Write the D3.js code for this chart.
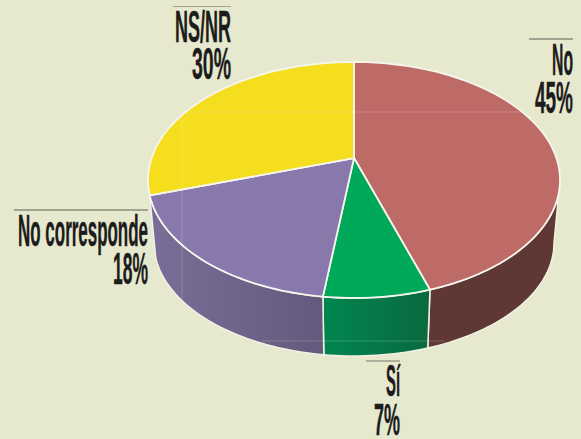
<!DOCTYPE html>
<html>
<head>
<meta charset="utf-8">
<script src="https://d3js.org/d3.v7.min.js"></script>
<style>
  html, body { margin: 0; padding: 0; background: #e7e9cf; }
  svg { display: block; }
  text { font-family: "Liberation Sans Narrow", "Liberation Sans", sans-serif; font-weight: bold; fill: #1d1c1c; stroke: #1d1c1c; }
</style>
</head>
<body>
<svg id="chart" width="581" height="439"></svg>
<script>
const categories = ["No", "Sí", "No corresponde", "NS/NR"];
const values = [45, 7, 18, 30];

const topColours = ["#be6a66", "#00a85a", "#8878ab", "#f4de1e"];
const wallFrom = ["#5f3833", "#00864f", "#7a6e98", null];
const wallTo = ["#5f3833", "#0a693f", "#625a7c", null];

// anchor is the right edge of the label, line is the rule above it
const labelRight = [573, 400, 148, 231];
const labelBase = [[75, 113], [396, 435], [245.5, 284], [41.5, 79]];
const labelWidth = [[21, 38], [14, 26], [130, 35], [56, 39]];
const ruleY = [39, 361, 210, 6.5];
const ruleLeft = [529, 366, 14, 173];
const ruleColour = ["#5c5c50", "#77776a", "#5c5c50", "#a3a38f"];

const width = 581;
const height = 439;

// the disc is seen in perspective: the apex sits above the middle of the ellipse
const tilt = -0.186;
const topFace = { cx: 354, cy: 180, rx: 206, ry: 118 };
const bottomFace = { cx: 354, cy: 243, rx: 200, ry: 113 };

function project(face, angle, radius) {
  const u = radius * Math.sin(angle);
  const v = -radius * Math.cos(angle);
  const w = 1 + tilt * v;
  const x = d3.scaleLinear().domain([-1, 1]).range([face.cx - face.rx, face.cx + face.rx]);
  const y = d3.scaleLinear().domain([-1, 1]).range([face.cy - face.ry, face.cy + face.ry]);
  return [x((u * Math.sqrt(1 - tilt * tilt)) / w), y((v + tilt) / w)];
}

function arcPoints(face, a0, a1) {
  const n = Math.max(2, Math.ceil(Math.abs(a1 - a0) * 40));
  return d3.range(n + 1).map((i) => project(face, a0 + ((a1 - a0) * i) / n, 1));
}

const line = d3.line();
const slices = d3.pie().sort(null)(values);

// angle where the rim is at its widest, the wall is not visible behind it
const sideAngle = Math.acos(tilt);

const svg = d3.select("#chart").attr("viewBox", [0, 0, width, height]);
svg.append("rect").attr("width", width).attr("height", height).attr("fill", "#e7e9cf");

const defs = svg.append("defs");
slices.forEach((d, i) => {
  if (!wallFrom[i]) return;
  const grad = defs.append("linearGradient").attr("id", `wall_${i}`);
  grad.append("stop").attr("offset", "0%").attr("stop-color", wallFrom[i]);
  grad.append("stop").attr("offset", "100%").attr("stop-color", wallTo[i]);
});

// walls of the front slices
svg
  .append("g")
  .selectAll("path")
  .data(slices.filter((d) => wallFrom[d.index]))
  .join("path")
  .attr("d", (d) => {
    const a0 = Math.max(d.startAngle, sideAngle);
    const a1 = Math.min(d.endAngle, 2 * Math.PI - sideAngle);
    return line(arcPoints(topFace, a0, a1).concat(arcPoints(bottomFace, a1, a0))) + "Z";
  })
  .attr("fill", (d) => `url(#wall_${d.index})`)
  .attr("stroke", "#f1f1e6")
  .attr("stroke-width", 1.5)
  .attr("stroke-linejoin", "round");

// top of the pie
svg
  .append("g")
  .selectAll("path")
  .data(slices)
  .join("path")
  .attr("d", (d) => {
    const apex = project(topFace, 0, 0);
    return line([apex].concat(arcPoints(topFace, d.startAngle, d.endAngle))) + "Z";
  })
  .attr("fill", (d) => topColours[d.index])
  .attr("stroke", "#f6f6ee")
  .attr("stroke-width", 1.8)
  .attr("stroke-linejoin", "round");

// faint frame lines that show through the print
svg
  .append("g")
  .attr("stroke", "#ffffff")
  .attr("stroke-opacity", 0.2)
  .selectAll("line")
  .data([[182, 112, 522, 112], [182, 112, 182, 300], [262, 341, 445, 341]])
  .join("line")
  .attr("x1", (d) => d[0])
  .attr("y1", (d) => d[1])
  .attr("x2", (d) => d[2])
  .attr("y2", (d) => d[3]);

// labels
const labels = svg
  .append("g")
  .selectAll("g")
  .data(categories)
  .join("g");

labels
  .append("line")
  .attr("x1", (d, i) => ruleLeft[i])
  .attr("x2", (d, i) => labelRight[i])
  .attr("y1", (d, i) => ruleY[i])
  .attr("y2", (d, i) => ruleY[i])
  .attr("stroke", (d, i) => ruleColour[i])
  .attr("stroke-width", 1);

labels.each(function (d, i) {
  [d, `${values[i]}%`].forEach((str, row) => {
    const t = d3.select(this)
      .append("text")
      .text(str)
      .attr("text-anchor", "end")
      .attr("font-size", 30);
    // squeeze the glyphs to the width of the condensed face in the print
    const sx = labelWidth[i][row] / t.node().getComputedTextLength();
    t.attr("transform", `translate(${labelRight[i]},${labelBase[i][row]}) scale(${sx},1.45)`)
      .attr("stroke-width", 0.3);
  });
});
</script>
</body>
</html>
